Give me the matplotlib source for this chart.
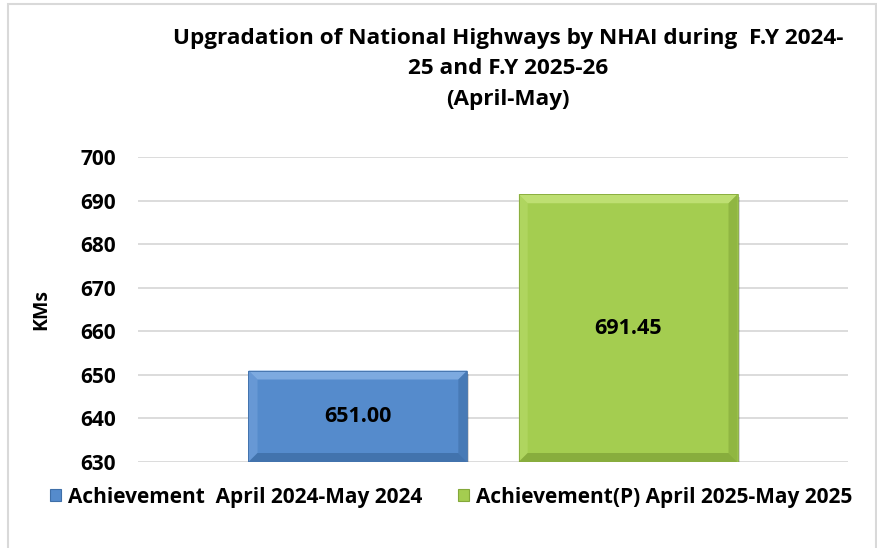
import matplotlib
matplotlib.use("Agg")
import matplotlib.pyplot as plt
from matplotlib.patches import Polygon, Rectangle, Patch

series = ["Achievement  April 2024-May 2024", "Achievement(P) April 2025-May 2025"]
values = [651.00, 691.45]
positions = [-0.5, 0.5]
yticks = [630, 640, 650, 660, 670, 680, 690, 700]
title = "Upgradation of National Highways by NHAI during  F.Y 2024-\n25 and F.Y 2025-26\n(April-May)"

# face, light bevel, dark bevel
colors = [("#558BCC", "#7DAAE0", "#3F6FA8"),
          ("#A4CD50", "#BEDF72", "#84A83A")]

plt.rcParams['font.family'] = ['Open Sans', 'DejaVu Sans']
plt.rcParams['font.weight'] = 'bold'

fig = plt.figure(figsize=(8.78, 5.48), dpi=100)
fig.patches.append(Rectangle((8 / 878, -0.05), 868 / 878, 1.042, transform=fig.transFigure,
                             fill=False, edgecolor="#D9D9D9", linewidth=1.5))

ax = fig.add_axes([138 / 878, 1 - 462 / 548, (848 - 138) / 878, (462 - 157) / 548])
ax.set_ylim(630, 700)
ax.set_xlim(-1.314, 1.314)
ax.set_yticks(yticks)
ax.set_yticklabels([str(t) for t in yticks], fontsize=15, fontweight='bold')
ax.tick_params(axis='y', length=0, pad=16)
ax.set_xticks([])
for s in ax.spines.values():
    s.set_visible(False)
ax.grid(axis='y', color="#D9D9D9", linewidth=1.3)
ax.set_axisbelow(True)
ax.set_ylabel("KMs", fontsize=14, fontweight='bold', labelpad=21)

width = 0.81
bars = ax.bar(positions, [v - 630 for v in values], width=width, bottom=630,
              color=[c[0] for c in colors], edgecolor="none", zorder=3)

# bevel sizes in data units (about 9 px)
x_per_px = 2 * 1.314 / 710
y_per_px = 70 / 305
bx, by = 9 * x_per_px, 9 * y_per_px
for b, (face, light, dark) in zip(bars, colors):
    x0, y0 = b.get_x(), b.get_y()
    x1, y1 = x0 + b.get_width(), y0 + b.get_height()
    # shadow
    ax.add_patch(Rectangle((x0 + 2 * x_per_px, y0 - 3 * y_per_px), b.get_width(), b.get_height(),
                           color="#000000", alpha=0.15, zorder=2, linewidth=0))
    ax.add_patch(Polygon([(x0, y1), (x1, y1), (x1 - bx, y1 - by), (x0 + bx, y1 - by)],
                         closed=True, color=light, zorder=4, linewidth=0))
    ax.add_patch(Polygon([(x0, y0), (x0, y1), (x0 + bx, y1 - by), (x0 + bx, y0 + by)],
                         closed=True, color=light, alpha=0.45, zorder=4, linewidth=0))
    ax.add_patch(Polygon([(x1, y0), (x1, y1), (x1 - bx, y1 - by), (x1 - bx, y0 + by)],
                         closed=True, color=dark, alpha=0.6, zorder=4, linewidth=0))
    ax.add_patch(Polygon([(x0, y0), (x1, y0), (x1 - bx, y0 + by), (x0 + bx, y0 + by)],
                         closed=True, color=dark, alpha=0.85, zorder=4, linewidth=0))
    ax.add_patch(Rectangle((x0, y0), b.get_width(), b.get_height(), fill=False,
                           edgecolor=dark, linewidth=0.6, zorder=4))

for p, v in zip(positions, values):
    ax.text(p, (630 + v) / 2, f"{v:.2f}", ha='center', va='center',
            fontsize=15.5, fontweight='bold', zorder=5)

fig.text(508 / 878, 1 - 28 / 548, title, ha='center', va='top', fontsize=16.2,
         fontweight='bold', linespacing=1.58)

handles = [Patch(facecolor=c[0], edgecolor=c[2], linewidth=0.8) for c in colors]
fig.legend(handles, series, loc='center', bbox_to_anchor=(451 / 878, 1 - 497 / 548),
           ncol=2, frameon=False, prop={'size': 15, 'weight': 'bold'},
           handlelength=0.55, handleheight=0.55, handletextpad=0.33, columnspacing=1.7)

fig.savefig("out.png", dpi=100)
